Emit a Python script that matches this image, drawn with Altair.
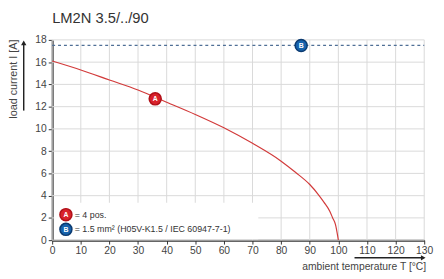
import altair as alt
import pandas as pd

title_text = "LM2N 3.5/../90"
curve_t = [0, 10, 20, 30, 40, 50, 60, 70, 80, 85, 90, 93, 95, 97, 98, 99, 100]
curve_i = [16.1, 15.3, 14.4, 13.5, 12.4, 11.3, 10.1, 8.7, 7.1, 6.1, 5.0, 4.1, 3.4, 2.6, 2.0, 1.4, 0]
wire_t = [0, 130]
wire_i = [17.5, 17.5]
marker_labels = ["A", "B"]
marker_t = [36, 87]
marker_i = [12.7, 17.5]
legend_labels = ["= 4 pos.", "= 1.5 mm² (H05V-K1.5 / IEC 60947-7-1)"]
x_ticks = list(range(0, 131, 10))
y_ticks = list(range(0, 19, 2))
x_title = "ambient temperature T [°C]"
y_title = "load current I [A]"

RED = "#d9222b"
CURVE = "#d23a3a"
BLUE = "#1763ad"
DASH = "#4f6f96"
FONT = "Liberation Sans"

curve_df = pd.DataFrame({"t": curve_t, "i": curve_i})
wire_df = pd.DataFrame({"t": wire_t, "i": wire_i})
marker_df = pd.DataFrame({"t": marker_t, "i": marker_i, "label": marker_labels})
xgrid_df = pd.DataFrame({"t": x_ticks})
ygrid_df = pd.DataFrame({"i": y_ticks})
one = pd.DataFrame({"a": [0]})

xs = alt.Scale(domain=[0, 130], nice=False)
ys = alt.Scale(domain=[0, 18], nice=False)
xax = alt.Axis(values=x_ticks, title=None, grid=False, labelOverlap=False, labelFlush=False)
yax = alt.Axis(values=y_ticks, title=None, grid=False, labelOverlap=False, labelFlush=False)

def X():
    return alt.X("t:Q", scale=xs, axis=xax)

def Y():
    return alt.Y("i:Q", scale=ys, axis=yax)

GRID = "#d9d9d9"
vgrid = alt.Chart(xgrid_df).mark_rule(color=GRID, strokeWidth=1).encode(x=X())
hgrid = alt.Chart(ygrid_df).mark_rule(color=GRID, strokeWidth=1).encode(y=Y())

box = alt.Chart(one).mark_rect(color="white").encode(
    x=alt.value(2), x2=alt.value(210), y=alt.value(166), y2=alt.value(203)
)

curve = alt.Chart(curve_df).mark_line(color=CURVE, strokeWidth=1.2, interpolate="monotone").encode(
    x=X(), y=Y()
)

wire = alt.Chart(wire_df).mark_line(color=DASH, strokeWidth=1.2, strokeDash=[3, 3]).encode(
    x=X(), y=Y()
)

color_scale = alt.Scale(domain=marker_labels, range=[RED, BLUE])
stroke_scale = alt.Scale(domain=marker_labels, range=["#b01018", "#0b3a70"])

markers = alt.Chart(marker_df).mark_circle(size=150, opacity=1, strokeWidth=1.5).encode(
    x=X(), y=Y(),
    fill=alt.Fill("label:N", scale=color_scale, legend=None),
    stroke=alt.Stroke("label:N", scale=stroke_scale, legend=None),
)
marker_text = alt.Chart(marker_df).mark_text(color="white", fontSize=7, fontWeight="bold", font=FONT, dy=0.5).encode(
    x=X(), y=Y(), text="label:N"
)

leg_layers = []
for k, (lab, txt) in enumerate(zip(marker_labels, legend_labels)):
    d = pd.DataFrame({"label": [lab], "txt": [txt]})
    yy = 178 + 15 * k
    leg_layers.append(alt.Chart(d).mark_circle(size=150, opacity=1, strokeWidth=1.5).encode(
        x=alt.value(14), y=alt.value(yy),
        fill=alt.Fill("label:N", scale=color_scale, legend=None),
        stroke=alt.Stroke("label:N", scale=stroke_scale, legend=None),
    ))
    leg_layers.append(alt.Chart(d).mark_text(color="white", fontSize=7, fontWeight="bold", font=FONT, dy=0.5).encode(
        x=alt.value(14), y=alt.value(yy), text="label:N"
    ))
    leg_layers.append(alt.Chart(d).mark_text(align="left", baseline="middle", fontSize=9, font=FONT, color="#333").encode(
        x=alt.value(23), y=alt.value(yy), text="txt:N"
    ))

ytitle = alt.Chart(pd.DataFrame({"s": [y_title]})).mark_text(
    angle=270, align="center", baseline="middle", fontSize=11, font=FONT, color="#444"
).encode(x=alt.value(-39), y=alt.value(40), text="s:N")
yarrow = alt.Chart(one).mark_rule(color="#222", strokeWidth=1.5).encode(
    x=alt.value(-29), y=alt.value(72), y2=alt.value(4)
)
yhead = alt.Chart(one).mark_point(shape="triangle-up", filled=True, color="#222", size=30, opacity=1).encode(
    x=alt.value(-29), y=alt.value(3)
)
xtitle = alt.Chart(pd.DataFrame({"s": [x_title]})).mark_text(
    align="right", baseline="middle", fontSize=10.5, font=FONT, color="#444"
).encode(x=alt.value(381), y=alt.value(231), text="s:N")
xarrow = alt.Chart(one).mark_rule(color="#222", strokeWidth=1.5).encode(
    x=alt.value(308), x2=alt.value(376), y=alt.value(222)
)
xhead = alt.Chart(one).mark_point(shape="triangle-right", filled=True, color="#222", size=30, opacity=1).encode(
    x=alt.value(378), y=alt.value(222)
)

chart = alt.layer(
    vgrid, hgrid, box, curve, wire, markers, marker_text, *leg_layers, ytitle, yarrow, yhead, xtitle, xarrow, xhead
).properties(
    width=379, height=204,
    title=alt.TitleParams(title_text, anchor="start", frame="group", fontSize=15, font=FONT, color="#333",
                          fontWeight="normal", offset=9),
    autosize=alt.AutoSizeParams(type="none"),
    padding={"left": 45, "top": 30, "right": 12, "bottom": 33},
).configure_view(stroke=None).configure_axis(
    domainColor="#333", domainWidth=2, tickColor="#333", tickSize=4, tickWidth=1,
    labelFont=FONT, labelFontSize=10.5, labelColor="#444", labelPadding=2,
)

chart.save("out.html", embed_options={"renderer": "svg", "actions": False})
